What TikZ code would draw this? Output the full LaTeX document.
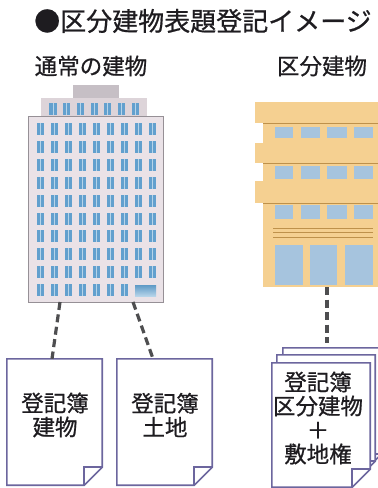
\documentclass[tikz,border=0pt]{standalone}
\usepackage{fontspec}
\setmainfont{Noto Sans CJK JP}
\newfontfamily\jpmedium{Noto Sans CJK JP}[RawFeature={embolden=0.7}]
\usetikzlibrary{calc}

\definecolor{ink}{RGB}{30,28,32}
\definecolor{docline}{RGB}{108,102,158}
\definecolor{dashgray}{RGB}{78,78,80}
\definecolor{towerface}{RGB}{234,226,231}
\definecolor{towertier}{RGB}{221,212,217}
\definecolor{towertop}{RGB}{198,191,197}
\definecolor{toweredge}{RGB}{150,144,150}
\definecolor{winblue}{RGB}{98,160,206}
\definecolor{winlight}{RGB}{182,212,233}
\definecolor{tanwall}{RGB}{245,208,145}
\definecolor{tanline}{RGB}{190,145,75}
\definecolor{paleblue}{RGB}{166,196,222}

\tikzset{
  titletext/.style={text=ink,font=\jpmedium\fontsize{26}{28}\selectfont,inner sep=0pt},
  headtext/.style={text=ink,font=\jpmedium\fontsize{22.5}{24}\selectfont,inner sep=0pt},
  doctext/.style={text=ink,font=\jpmedium\fontsize{22.5}{24}\selectfont,align=center,inner sep=0pt},
  docbox/.style={minimum width=95pt,minimum height=126pt,inner sep=0pt},
  stackbox/.style={minimum width=98pt,minimum height=124pt,inner sep=0pt},
  docpaper/.style={draw=docline,line width=1.6pt,fill=white,line join=miter},
  link/.style={draw=dashgray,line width=3.2pt,dash pattern=on 8pt off 4.5pt},
}

% twin-pane window of the tower: centre x, top y
\newcommand\towerwin[2]{%
  \fill[winblue] (#1-3.6,#2) rectangle (#1+3.6,#2+12);
  \draw[winlight,line width=0.9pt] (#1,#2) -- (#1,#2+12);
}

% sheet of paper with a folded bottom-right corner
\newcommand\paperoutline[1]{%
  \draw[docpaper] (#1.north west) -- (#1.north east)
    -- ($(#1.south east)+(0,-18)$) -- ($(#1.south east)+(-18,0)$)
    -- (#1.south west) -- cycle;
  \draw[docpaper,fill=none] ($(#1.south east)+(0,-18)$)
    -- ($(#1.south east)+(-18,-18)$) -- ($(#1.south east)+(-18,0)$);
}

\begin{document}
\begin{tikzpicture}[x=1pt,y=-1pt]
\useasboundingbox (0,0) rectangle (378,488);

% headings
\node[titletext,anchor=west] (title) at (34,21) {●区分建物表題登記イメージ};
\node[headtext] (headA) at (91,66) {通常の建物};
\node[headtext] (headB) at (322,66) {区分建物};

% ---- ordinary building (tower)
\fill[towertop] (73,85) rectangle (119,98);
\fill[towertier] (41,98) rectangle (147,116);
\foreach \c in {0,...,6} { \towerwin{53+13.7*\c}{103} }
\node[draw=toweredge,fill=towerface,line width=1pt,inner sep=0pt,
      minimum width=135pt,minimum height=186pt] (tower) at (95.5,209) {};
\foreach \r in {0,...,8} {
  \foreach \c in {0,...,8} { \towerwin{40.5+14*\c}{123+17.9*\r} }
}
\foreach \c in {0,...,6} { \towerwin{40.5+14*\c}{284} }
\shade[top color=winblue!80!black!20!winblue,bottom color=winlight]
  (135,285) rectangle (156,296);
\coordinate (towerL) at (60,302);
\coordinate (towerR) at (133,302);

% ---- condominium building
\fill[tanwall] (263,123) rectangle (378,287);
\fill[tanwall] (255,102) rectangle (378,123);
\fill[tanwall] (255,143) rectangle (378,163);
\fill[tanwall] (255,181) rectangle (378,203);
\foreach \y in {123,163,203} {
  \draw[tanline,line width=0.9pt] (263,\y) -- (378,\y);
}
\foreach \y/\h in {127/11,166/13,205/14} {
  \foreach \x/\w in {275/18,301/19,327/20,354/19} {
    \fill[paleblue] (\x,\y) rectangle (\x+\w,\y+\h);
  }
}
\foreach \y in {228,232.5,237} {
  \draw[tanline,line width=0.8pt] (273,\y) -- (373,\y);
}
\foreach \x/\w in {275/28,310/27,345/28} {
  \fill[paleblue] (\x,245) rectangle (\x+\w,285);
}
\coordinate (condo) at (327,287);

% ---- register sheets
\node[docbox] (docA) at (54.5,422) {};
\node[docbox] (docB) at (164.5,422) {};
\paperoutline{docA}
\paperoutline{docB}
\node[doctext] (textA) at (55,415) {登記簿\\建物};
\node[doctext] (textB) at (165,415) {登記簿\\土地};

\node[stackbox] (docC3) at (332,410) {};
\node[stackbox] (docC2) at (326,417) {};
\node[stackbox] (docC) at (321,425) {};
\paperoutline{docC3}
\paperoutline{docC2}
\paperoutline{docC}
\node[doctext] (textC) at (318,418) {登記簿\\区分建物\\＋\\敷地権};

% ---- dashed connectors
\draw[link] (towerL) -- ($(docA.north)+(-2.5,0)$);
\draw[link] (towerR) -- ($(docB.north west)!0.38!(docB.north east)$);
\draw[link] (condo) -- ($(condo |- docC3.north)+(0,-5)$);
\end{tikzpicture}
\end{document}
